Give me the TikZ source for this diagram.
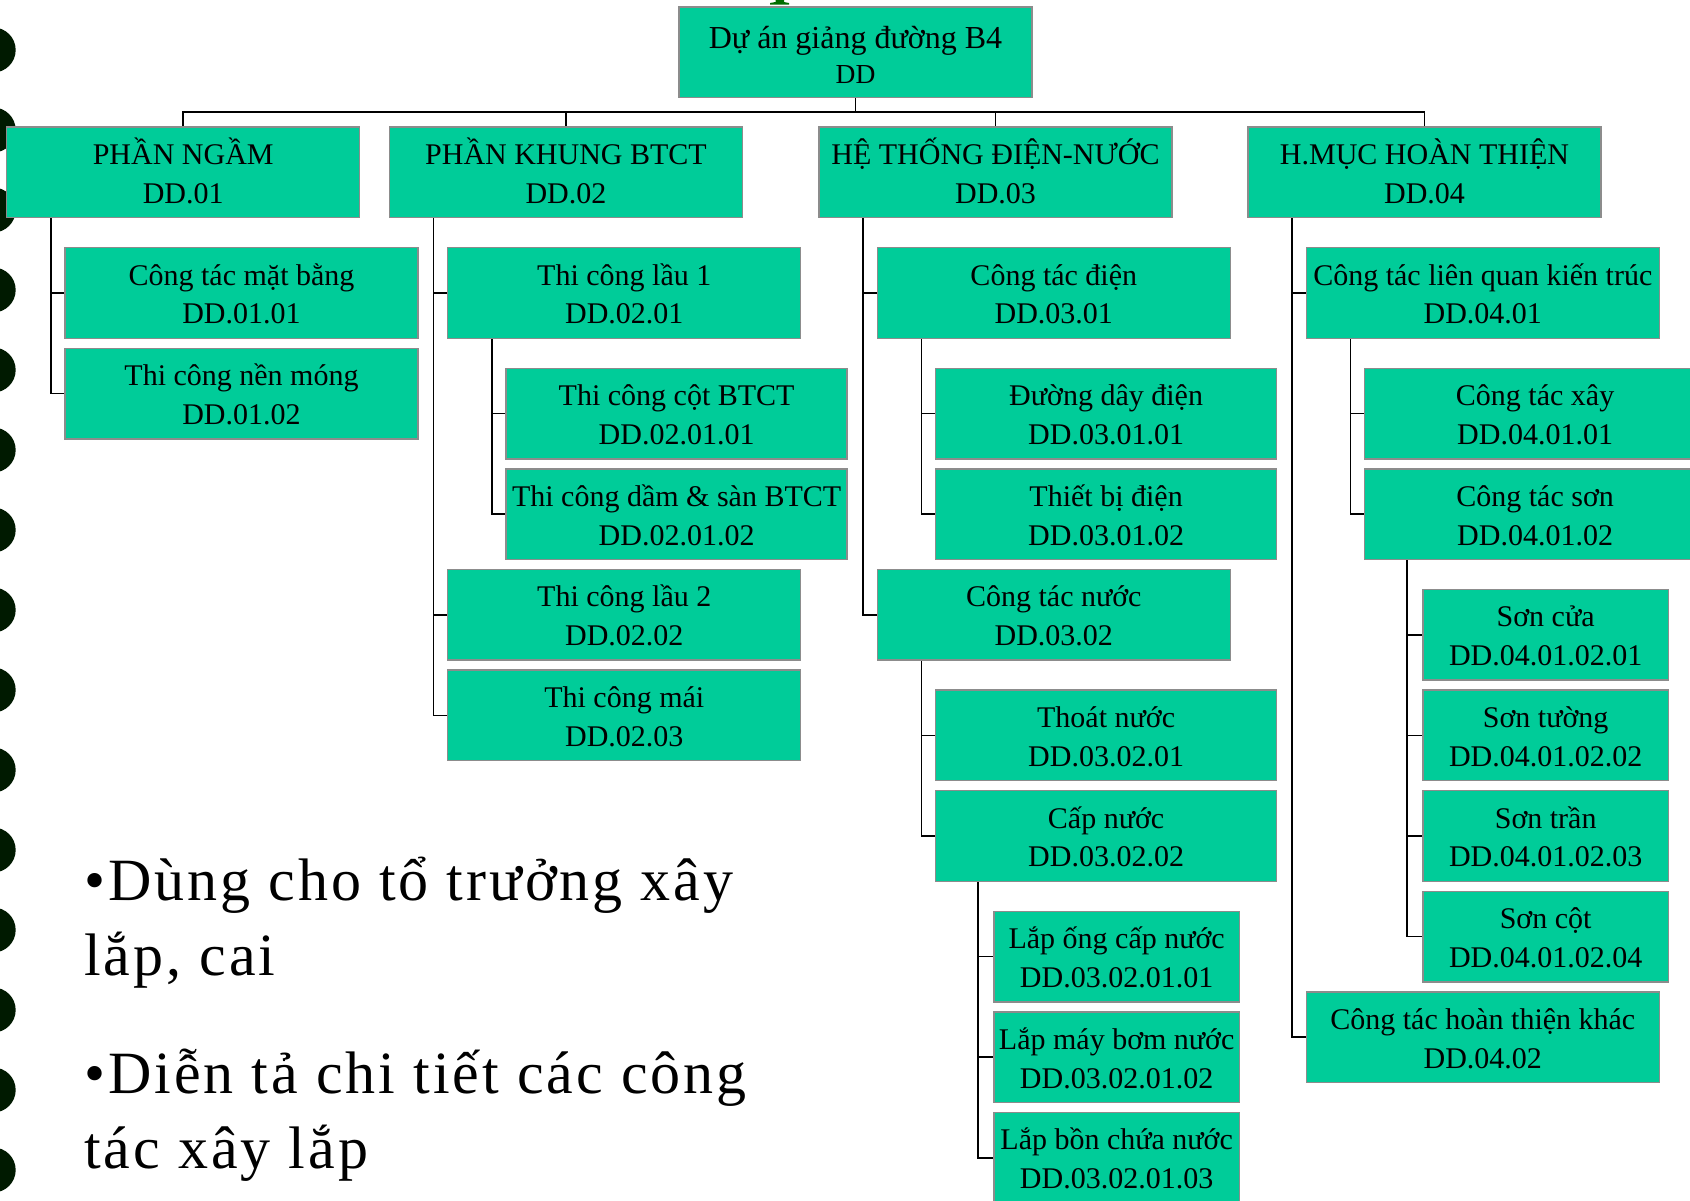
\documentclass[tikz,border=0pt]{standalone}
\usepackage{fontspec}
\setmainfont{Liberation Serif}
\newfontfamily\bulletfont[LetterSpace=5]{Liberation Serif}
\definecolor{boxfill}{RGB}{0,204,153}
\definecolor{boxline}{RGB}{140,140,140}
\definecolor{ring}{RGB}{0,26,0}
\definecolor{titlegreen}{RGB}{0,110,0}
\pgfdeclarelayer{paper}
\pgfdeclarelayer{bg}
\pgfsetlayers{paper,bg,main}
% two centred lines: name and code of a work package
\newcommand\twolines[2]{\vbox{\baselineskip=38.8pt\halign{\hfil##\hfil\cr#1\cr#2\cr}}}
\newcommand\rootlines[2]{\vbox{\baselineskip=35pt\halign{\hfil##\hfil\cr{\fontsize{32}{35}\selectfont#1}\cr{\fontsize{27.5}{35}\selectfont#2}\cr}}}
\tikzset{
  wbs/.style={draw=boxline, line width=1.3pt, fill=boxfill, inner sep=0pt, outer sep=0pt,
    minimum height=90.6pt, text height=61.8pt, text depth=0pt,
    font=\fontsize{30}{38.8}\selectfont, anchor=north west},
  wide/.style={wbs, minimum width=353pt},
  mid/.style={wbs, minimum width=341pt},
  narrow/.style={wbs, minimum width=245.5pt},
  conn/.style={draw=black, line width=1.6pt},
  bullets/.style={anchor=base west, inner sep=0pt, font=\bulletfont\fontsize{60}{75}\selectfont},
}
\begin{document}
\begin{tikzpicture}[x=1pt, y=-1pt]
\useasboundingbox (0,0) rectangle (1690,1200);
\begin{pgfonlayer}{paper}
\fill[white] (0,0) rectangle (1690,1200);
\end{pgfonlayer}

% binding rings along the left edge
\begin{pgfonlayer}{bg}
\foreach \k in {0,...,14}
  \fill[ring] (-6.8, 50+80*\k) circle (22.5pt);
\end{pgfonlayer}

% foot of the heading letter above the chart
\fill[titlegreen] (775.5,0) -- (784,0) -- (784,2) -- (789,3) -- (789,4.5)
  -- (770,4.5) -- (770,3) -- (775.5,2) -- cycle;

% root
\node[wide, text height=62pt] (root) at (679,7) {\rootlines{Dự án giảng đường B4}{DD}};

% level 1
\node[wide] (a1) at (6.7,127)  {\twolines{PHẦN NGẦM}{DD.01}};
\node[wide] (a2) at (389.5,127) {\twolines{PHẦN KHUNG BTCT}{DD.02}};
\node[wide] (a3) at (819,127)  {\twolines{HỆ THỐNG ĐIỆN-NƯỚC}{DD.03}};
\node[wide] (a4) at (1248,127) {\twolines{H.MỤC HOÀN THIỆN}{DD.04}};

% column 1
\node[wide] (b11) at (65,247.7) {\twolines{Công tác mặt bằng}{DD.01.01}};
\node[wide] (b12) at (65,348.3) {\twolines{Thi công nền móng}{DD.01.02}};

% column 2
\node[wide] (b21) at (447.8,247.7) {\twolines{Thi công lầu 1}{DD.02.01}};
\node[mid]  (c211) at (506.1,368.3) {\twolines{Thi công cột BTCT}{DD.02.01.01}};
\node[mid]  (c212) at (506.1,468.9) {\twolines{Thi công dầm \& sàn BTCT}{DD.02.01.02}};
\node[wide] (b22) at (447.8,569.5) {\twolines{Thi công lầu 2}{DD.02.02}};
\node[wide] (b23) at (447.8,670.1) {\twolines{Thi công mái}{DD.02.03}};

% column 3
\node[wide] (b31) at (877.3,247.7) {\twolines{Công tác điện}{DD.03.01}};
\node[mid]  (c311) at (935.6,368.3) {\twolines{Đường dây điện}{DD.03.01.01}};
\node[mid]  (c312) at (935.6,468.9) {\twolines{Thiết bị điện}{DD.03.01.02}};
\node[wide] (b32) at (877.3,569.5) {\twolines{Công tác nước}{DD.03.02}};
\node[mid]  (c321) at (935.6,690.1) {\twolines{Thoát nước}{DD.03.02.01}};
\node[mid]  (c322) at (935.6,790.7) {\twolines{Cấp nước}{DD.03.02.02}};
\node[narrow] (d1) at (993.9,911.3)  {\twolines{Lắp ống cấp nước}{DD.03.02.01.01}};
\node[narrow] (d2) at (993.9,1011.9) {\twolines{Lắp máy bơm nước}{DD.03.02.01.02}};
\node[narrow] (d3) at (993.9,1112.5) {\twolines{Lắp bồn chứa nước}{DD.03.02.01.03}};

% column 4
\node[wide] (b41) at (1306.3,247.7) {\twolines{Công tác liên quan kiến trúc}{DD.04.01}};
\node[mid]  (c411) at (1364.6,368.3) {\twolines{Công tác xây}{DD.04.01.01}};
\node[mid]  (c412) at (1364.6,468.9) {\twolines{Công tác sơn}{DD.04.01.02}};
\node[narrow] (e1) at (1422.9,589.5) {\twolines{Sơn cửa}{DD.04.01.02.01}};
\node[narrow] (e2) at (1422.9,690.1) {\twolines{Sơn tường}{DD.04.01.02.02}};
\node[narrow] (e3) at (1422.9,790.7) {\twolines{Sơn trần}{DD.04.01.02.03}};
\node[narrow] (e4) at (1422.9,891.3) {\twolines{Sơn cột}{DD.04.01.02.04}};
\node[wide] (b42) at (1306.3,991.9) {\twolines{Công tác hoàn thiện khác}{DD.04.02}};

% notes
\node[bullets] (n1) at (84,975)  {\vbox{\hbox{•Dùng cho tổ trưởng xây}\hbox{lắp, cai}}};
\node[bullets] (n2) at (84,1168) {\vbox{\hbox{•Diễn tả chi tiết các công}\hbox{tác xây lắp}}};

% connectors
\begin{pgfonlayer}{bg}
\coordinate (bus) at (0,112);
\draw[conn] (root.south) -- (root.south |- bus);
\draw[conn] (a1.north) -- (a1.north |- bus) -- (a4.north |- bus) -- (a4.north);
\draw[conn] (a2.north) -- (a2.north |- bus);
\draw[conn] (a3.north) -- (a3.north |- bus);

\foreach \p/\c in {a1/b11, a1/b12, a2/b21, a2/b22, a2/b23, b21/c211, b21/c212,
                   a3/b31, a3/b32, b31/c311, b31/c312, b32/c321, b32/c322,
                   a4/b41, a4/b42, b41/c411, b41/c412}
  \draw[conn] ([xshift=44pt]\p.south west) |- (\c.west);
\foreach \p/\c in {c322/d1, c322/d2, c322/d3, c412/e1, c412/e2, c412/e3, c412/e4}
  \draw[conn] ([xshift=42.6pt]\p.south west) |- (\c.west);
\end{pgfonlayer}
\end{tikzpicture}
\end{document}
